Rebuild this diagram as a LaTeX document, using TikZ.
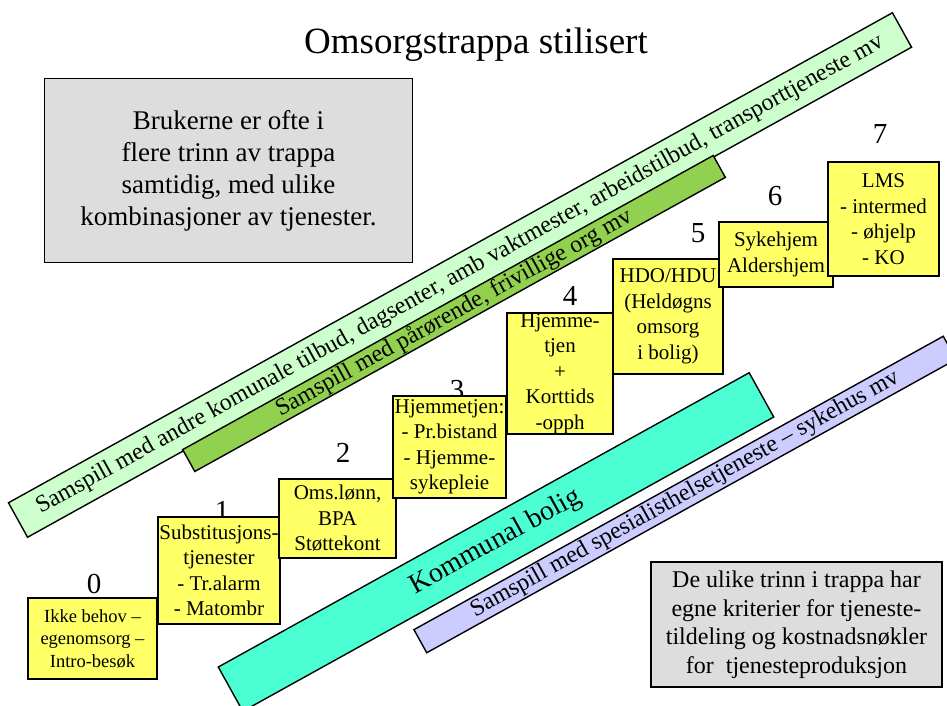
\documentclass[tikz,border=0pt]{standalone}
\usepackage{fontspec}
\setmainfont{Liberation Serif}
\definecolor{lgreen}{HTML}{CCFFCC}
\definecolor{dgreen}{HTML}{92D050}
\definecolor{cyanband}{HTML}{4CFFD2}
\definecolor{lavender}{HTML}{CCCCFF}
\definecolor{ylw}{HTML}{FFFF66}
\definecolor{gbox}{HTML}{DDDDDD}
\tikzset{
  band/.style={draw, line width=1.4pt, rotate=29, inner sep=0pt, font=\fontsize{24}{28}\selectfont},
  ybox/.style={draw, fill=ylw, line width=1.4pt, inner sep=0pt},
  ytext/.style={align=center, inner sep=0pt, font=\fontsize{21}{25.5}\selectfont},
  greybox/.style={draw, fill=gbox, line width=1.6pt, inner sep=0pt, align=center},
  steplabel/.style={inner sep=0pt, font=\fontsize{29}{32}\selectfont}
}
\begin{document}
\begin{tikzpicture}[x=1pt,y=-1pt]
\useasboundingbox (0,0) rectangle (947,706);
% bands
\node[band, fill=lgreen, minimum width=1010.7pt, minimum height=39.4pt] (andre) at (460,275)
  {Samspill med andre komunale tilbud, dagsenter, amb vaktmester, arbeidstilbud, transporttjeneste mv};
\node[band, fill=dgreen, minimum width=606.6pt, minimum height=25pt] (paaror) at (454,313.5)
  {Samspill med pårørende, frivillige org mv};
\node[band, fill=cyanband, minimum width=607pt, minimum height=50.6pt, font=\fontsize{28}{32}\selectfont] (bolig) at (496,542)
  {Kommunal bolig};
\node[band, fill=lavender, minimum width=605.2pt, minimum height=26.4pt] (spes) at (685,494.5)
  {Samspill med spesialisthelsetjeneste – sykehus mv};
% grey boxes
\node[greybox, minimum width=368pt, minimum height=184pt, font=\fontsize{27}{32}\selectfont] (brukerne) at (228.5,170.5)
  {Brukerne er ofte i\\flere trinn av trappa\\samtidig, med ulike\\kombinasjoner av tjenester.};
\node[greybox, minimum width=291pt, minimum height=125pt, font=\fontsize{24}{28.5}\selectfont] (kriterier) at (796.5,624.5)
  {De ulike trinn i trappa har\\egne kriterier for tjeneste-\\tildeling og kostnadsnøkler\\for\ \ tjenesteproduksjon};
% title
\node[inner sep=0pt, font=\fontsize{37}{40}\selectfont] (title) at (476,45) {Omsorgstrappa stilisert};
% step labels
\node[steplabel] (l0) at (94,584) {0};
\node[steplabel] (l1) at (222,511) {1};
\node[steplabel] (l2) at (343,453) {2};
\node[steplabel] (l3) at (457,390) {3};
\node[steplabel] (l4) at (570,296) {4};
\node[steplabel] (l5) at (698,233) {5};
\node[steplabel] (l6) at (775,196) {6};
\node[steplabel] (l7) at (880,134) {7};
% step boxes
\node[ybox, minimum width=129pt, minimum height=81pt] (b0) at (92.5,638.5) {};
\node[ybox, minimum width=122pt, minimum height=107pt] (b1) at (219,570.5) {};
\node[ybox, minimum width=117pt, minimum height=79pt] (b2) at (337.5,518.5) {};
\node[ybox, minimum width=113pt, minimum height=102pt] (b3) at (449.5,447) {};
\node[ybox, minimum width=106pt, minimum height=121pt] (b4) at (560,373.5) {};
\node[ybox, minimum width=110pt, minimum height=115pt] (b5) at (668,316.5) {};
\node[ybox, minimum width=114pt, minimum height=65pt] (b6) at (776,254.5) {};
\node[ybox, minimum width=111pt, minimum height=114pt] (b7) at (883.5,219) {};
% step texts
\node[ytext, font=\fontsize{18.5}{22.5}\selectfont] (t0) at (b0.center) {Ikke behov –\\egenomsorg –\\Intro-besøk};
\node[ytext] (t1) at (b1.center) {Substitusjons-\\tjenester\\- Tr.alarm\\- Matombr};
\node[ytext] (t2) at (b2.center) {Oms.lønn,\\BPA\\Støttekont};
\node[ytext] (t3) at (b3.center) {Hjemmetjen:\\- Pr.bistand\\- Hjemme-\\sykepleie};
\node[ytext] (t4) at (b4.center) {Hjemme-\\tjen\\+\\Korttids\\-opph};
\node[ytext] (t5) at (b5.center) {HDO/HDU\\(Heldøgns\\omsorg\\i bolig)};
\node[ytext] (t6) at (b6.center) {Sykehjem\\Aldershjem};
\node[ytext] (t7) at (b7.center) {LMS\\- intermed\\- øhjelp\\- KO};
\end{tikzpicture}
\end{document}
